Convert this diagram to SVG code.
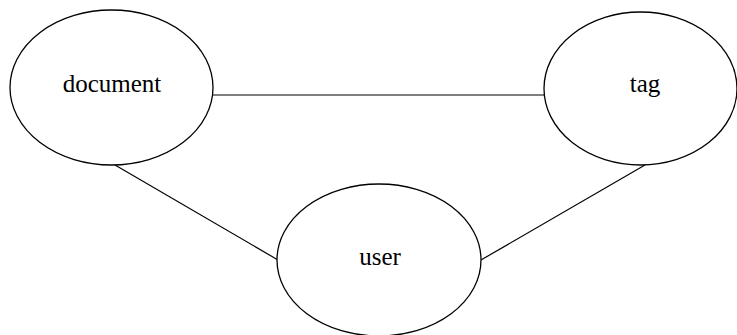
<svg xmlns="http://www.w3.org/2000/svg" width="737" height="335" viewBox="0 0 737 335">
  <style>
    .node ellipse { fill: #ffffff; stroke: #000000; stroke-width: 1.3; }
    .node text { font-family: "Liberation Serif", "Times New Roman", serif; font-size: 25px; fill: #000000; text-anchor: middle; }
    #edges line { stroke: #000000; stroke-width: 1.2; }
  </style>
  <rect width="737" height="335" fill="#ffffff"/>
  <g id="edges">
    <line x1="213" y1="95" x2="544" y2="95"/>
    <line x1="115" y1="165" x2="278" y2="260"/>
    <line x1="645" y1="165" x2="481" y2="260"/>
  </g>
  <g id="document" class="node">
    <ellipse cx="111.5" cy="87.5" rx="101.5" ry="77.5"/>
    <text x="112" y="92">document</text>
  </g>
  <g id="tag" class="node">
    <ellipse cx="640.5" cy="88.5" rx="96.5" ry="76.5"/>
    <text x="645" y="92">tag</text>
  </g>
  <g id="user" class="node">
    <ellipse cx="379" cy="260" rx="102" ry="76"/>
    <text x="380" y="265">user</text>
  </g>
</svg>
